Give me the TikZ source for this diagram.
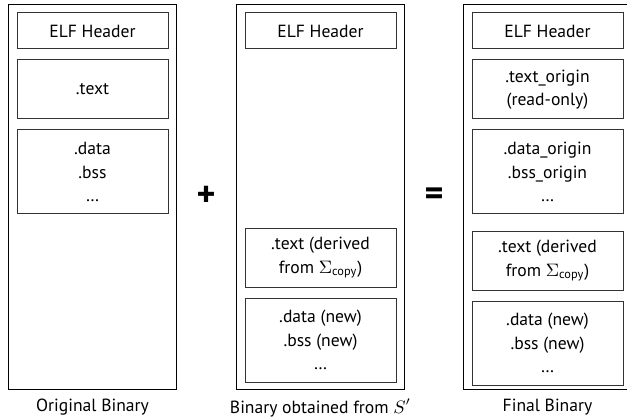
\documentclass[tikz,border=0pt]{standalone}
\usepackage{amsmath}
\usepackage{fontspec}
\setmainfont{PT Sans}
\usetikzlibrary{positioning}

\begin{document}
\begin{tikzpicture}[x=0.5pt, y=-0.5pt, node distance=5pt,
		font=\fontsize{8.8}{11.6}\selectfont,
		binary/.style={draw, line width=0.5pt, minimum width=84.25pt, minimum height=192pt, inner sep=0pt},
		section/.style={draw=black!80, line width=0.5pt, minimum width=75.5pt, align=center, inner sep=0pt},
		header/.style={section, minimum height=18pt},
		small sec/.style={section, minimum height=29.5pt},
		big sec/.style={section, minimum height=42pt},
		caption/.style={inner sep=0pt},
		op/.style={font=\fontsize{18}{18}\selectfont\bfseries}]
		
		\useasboundingbox (0,0) rectangle (627,417);
		
		% the three binaries
		\node[binary] (orig) at (92.5,197) {};
		\node[binary] (obtd) at (320.5,197) {};
		\node[binary] (fin) at (547.5,197) {};
		
		% original binary
		\node[header] (orig-elf) [below=4pt of orig.north] {ELF Header};
		\node[small sec] (orig-text) [below=of orig-elf] {.text};
		\node[big sec] (orig-data) [below=of orig-text] {.data\\.bss\\\dots};
		
		% binary obtained from S'
		\node[header] (obtd-elf) [below=4pt of obtd.north] {ELF Header};
		\node[big sec] (obtd-data) [above=3.5pt of obtd.south] {.data (new)\\.bss (new)\\\dots};
		\node[small sec] (obtd-text) [above=of obtd-data] {.text (derived\\from $\Sigma_{\text{copy}}$)};
		
		% final binary
		\node[header] (fin-elf) [below=4pt of fin.north] {ELF Header};
		\node[small sec] (fin-textorig) [below=of fin-elf] {.text\_origin\\(read-only)};
		\node[big sec] (fin-dataorig) [below=of fin-textorig] {.data\_origin\\.bss\_origin\\\dots};
		\node[small sec] (fin-text) [below=8pt of fin-dataorig] {.text (derived\\from $\Sigma_{\text{copy}}$)};
		\node[big sec] (fin-data) [below=of fin-text] {.data (new)\\.bss (new)\\\dots};
		
		% captions
		\node[caption] (orig-cap) [below=4.5pt of orig] {Original Binary};
		\node[caption] (obtd-cap) [below=4.5pt of obtd] {Binary obtained from $S'$};
		\node[caption] (fin-cap) [below=4.5pt of fin] {Final Binary};
		
		% operators
		\node[op] (plus) at (206,196) {+};
		\node[op] (eq) at (434,197) {=};
\end{tikzpicture}
\end{document}
